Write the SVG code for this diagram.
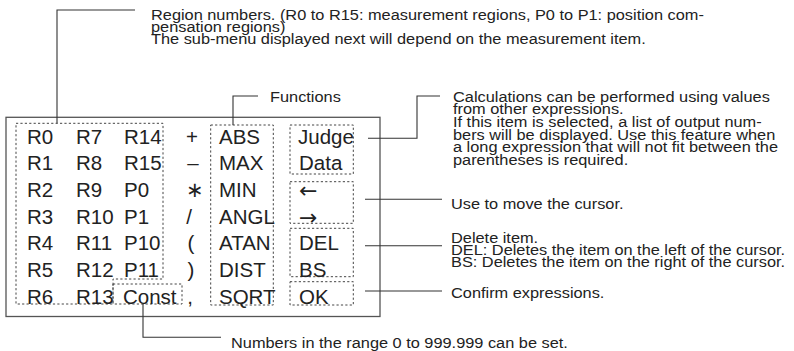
<svg xmlns="http://www.w3.org/2000/svg" width="794" height="351" viewBox="0 0 794 351">
<style>
.k{font-family:"Liberation Sans",Arial,sans-serif;font-size:20.5px;fill:#222}
.r{font-family:"DejaVu Sans",sans-serif;font-size:22px;fill:#222}
.a{font-family:"Liberation Sans",Arial,sans-serif;font-size:15px;fill:#222}
.d{fill:none;stroke:#444;stroke-width:1;stroke-dasharray:2.2 2.2}
.c{fill:none;stroke:#333;stroke-width:1.1}
</style>
<rect x="0" y="0" width="794" height="351" fill="#fff"/>
<g id="panel">
<rect x="6" y="117.3" width="374" height="199.2" fill="none" stroke="#555" stroke-width="1.3"/>
</g>
<g id="regions">
<path class="d" d="M16 123.3 H163 V279 H113 V304 H16 Z"/>
<text class="k" x="27" y="143.5">R0</text><text class="k" x="76" y="143.5">R7</text><text class="k" x="124" y="143.5">R14</text>
<text class="k" x="27" y="170.2">R1</text><text class="k" x="76" y="170.2">R8</text><text class="k" x="124" y="170.2">R15</text>
<text class="k" x="27" y="196.8">R2</text><text class="k" x="76" y="196.8">R9</text><text class="k" x="124" y="196.8">P0</text>
<text class="k" x="27" y="223.5">R3</text><text class="k" x="76" y="223.5">R10</text><text class="k" x="124" y="223.5">P1</text>
<text class="k" x="27" y="250.2">R4</text><text class="k" x="76" y="250.2">R11</text><text class="k" x="124" y="250.2">P10</text>
<text class="k" x="27" y="276.8">R5</text><text class="k" x="76" y="276.8">R12</text><text class="k" x="124" y="276.8">P11</text>
<text class="k" x="27" y="303.5">R6</text><text class="k" x="76" y="303.5">R13</text>
</g>
<g id="const">
<rect class="d" x="113" y="284" width="69" height="20"/>
<text class="k" x="123" y="303.5">Const</text>
</g>
<g id="operators">
<text class="k" x="192" y="143.5" text-anchor="middle">+</text>
<text class="k" x="193" y="170.2" text-anchor="middle">–</text>
<text class="k" x="195" y="196.8" text-anchor="middle">∗</text>
<text class="k" x="189" y="223.5" text-anchor="middle">/</text>
<text class="k" x="191" y="250.2" text-anchor="middle">(</text>
<text class="k" x="191" y="276.8" text-anchor="middle">)</text>
<text class="k" x="190" y="303.5" text-anchor="middle">,</text>
</g>
<g id="functions">
<rect class="d" x="210.7" y="125" width="62.6" height="180"/>
<text class="k" x="219" y="143.5">ABS</text>
<text class="k" x="219" y="170.2">MAX</text>
<text class="k" x="219" y="196.8">MIN</text>
<text class="k" x="219" y="223.5">ANGL</text>
<text class="k" x="219" y="250.2">ATAN</text>
<text class="k" x="219" y="276.8">DIST</text>
<text class="k" x="219" y="303.5">SQRT</text>
</g>
<g id="judge">
<rect class="d" x="290" y="125" width="63.3" height="49"/>
<text class="k" x="298" y="143.5">Judge</text>
<text class="k" x="299" y="170.2">Data</text>
</g>
<g id="cursor">
<rect class="d" x="290" y="181.7" width="63.3" height="41.6"/>
<text class="r" x="299" y="197.5">←</text>
<text class="r" x="299" y="224.5">→</text>
</g>
<g id="delete">
<rect class="d" x="290" y="228.3" width="63.3" height="48.4"/>
<text class="k" x="299" y="250.2">DEL</text>
<text class="k" x="299" y="276.8">BS</text>
</g>
<g id="ok">
<rect class="d" x="290" y="281.7" width="63.3" height="23.3"/>
<text class="k" x="299" y="303.5">OK</text>
</g>
<g id="connectors">
<path class="c" d="M57 123.3 V10 H135"/>
<path class="c" d="M233 125 V96 H258"/>
<path class="c" d="M368 138.3 H417 V96 H440"/>
<path class="c" d="M365 199.3 H442"/>
<path class="c" d="M365 245.7 H442"/>
<path class="c" d="M365 291 H442"/>
<path class="c" d="M143 304 V337.3 H221"/>
</g>
<g id="notes">
<text class="a" transform="translate(151 19.5) scale(1.09 1)">Region numbers. (R0 to R15: measurement regions, P0 to P1: position com-</text>
<text class="a" transform="translate(151 31.5) scale(1.09 1)">pensation regions)</text>
<text class="a" transform="translate(151 43.5) scale(1.09 1)">The sub-menu displayed next will depend on the measurement item.</text>
<text class="a" transform="translate(270 101.5) scale(1.09 1)">Functions</text>
<text class="a" transform="translate(453 101.5) scale(1.09 1)">Calculations can be performed using values</text>
<text class="a" transform="translate(453 114.2) scale(1.09 1)">from other expressions.</text>
<text class="a" transform="translate(453 126.9) scale(1.09 1)">If this item is selected, a list of output num-</text>
<text class="a" transform="translate(453 139.6) scale(1.09 1)">bers will be displayed. Use this feature when</text>
<text class="a" transform="translate(453 152.3) scale(1.09 1)">a long expression that will not fit between the</text>
<text class="a" transform="translate(453 165) scale(1.09 1)">parentheses is required.</text>
<text class="a" transform="translate(451 208.5) scale(1.09 1)">Use to move the cursor.</text>
<text class="a" transform="translate(451 242.5) scale(1.09 1)">Delete item.</text>
<text class="a" transform="translate(451 254.5) scale(1.09 1)">DEL: Deletes the item on the left of the cursor.</text>
<text class="a" transform="translate(451 266.5) scale(1.09 1)">BS: Deletes the item on the right of the cursor.</text>
<text class="a" transform="translate(451 297.5) scale(1.09 1)">Confirm expressions.</text>
<text class="a" transform="translate(231 348) scale(1.09 1)">Numbers in the range 0 to 999.999 can be set.</text>
</g>
</svg>
